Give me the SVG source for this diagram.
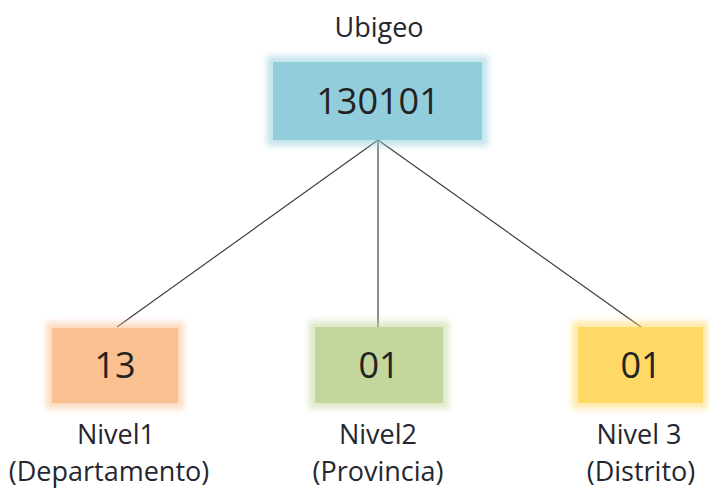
<svg xmlns="http://www.w3.org/2000/svg" width="709" height="488" viewBox="0 0 709 488">
  <defs>
    <filter id="glow" x="-20%" y="-30%" width="140%" height="160%">
      <feGaussianBlur stdDeviation="3"/>
    </filter>
  </defs>
  <style>
    .num { font-family: "Open Sans", "Liberation Sans", sans-serif; font-size: 36px; fill: #222222; text-anchor: middle; }
    .lbl { font-family: "Open Sans", "Liberation Sans", sans-serif; font-size: 27px; fill: #262630; text-anchor: middle; }
    .conn { stroke: #404040; stroke-width: 1.2; fill: none; }
    .halo { filter: url(#glow); opacity: 0.55; }
  </style>
  <rect width="709" height="488" fill="#ffffff"/>

  <g id="connectors">
    <line class="conn" x1="378" y1="140" x2="117" y2="327"/>
    <line class="conn" x1="378" y1="140" x2="378" y2="327"/>
    <line class="conn" x1="378" y1="140" x2="641" y2="327"/>
  </g>

  <g id="ubigeo">
    <text class="lbl" x="379" y="37">Ubigeo</text>
    <rect class="halo" x="267" y="56" width="221" height="90" fill="#92CDDC"/>
    <rect x="273" y="62" width="209" height="78" fill="#92CDDC"/>
    <text class="num" x="378" y="114">130101</text>
  </g>

  <g id="nivel1">
    <rect class="halo" x="46" y="322" width="138" height="87" fill="#FAC090"/>
    <rect x="52" y="328" width="126" height="75" fill="#FAC090"/>
    <text class="num" x="115" y="378">13</text>
    <text class="lbl" x="116" y="444">Nivel1</text>
    <text class="lbl" x="109" y="481">(Departamento)</text>
  </g>

  <g id="nivel2">
    <rect class="halo" x="309" y="321" width="140" height="88" fill="#C3D69B"/>
    <rect x="315" y="327" width="128" height="76" fill="#C3D69B"/>
    <text class="num" x="379" y="378">01</text>
    <text class="lbl" x="378" y="444">Nivel2</text>
    <text class="lbl" x="378" y="481">(Provincia)</text>
  </g>

  <g id="nivel3">
    <rect class="halo" x="572" y="321" width="136" height="88" fill="#FFD966"/>
    <rect x="578" y="327" width="125" height="76" fill="#FFD966"/>
    <text class="num" x="641" y="378">01</text>
    <text class="lbl" x="639" y="444">Nivel 3</text>
    <text class="lbl" x="641" y="481">(Distrito)</text>
  </g>
</svg>
